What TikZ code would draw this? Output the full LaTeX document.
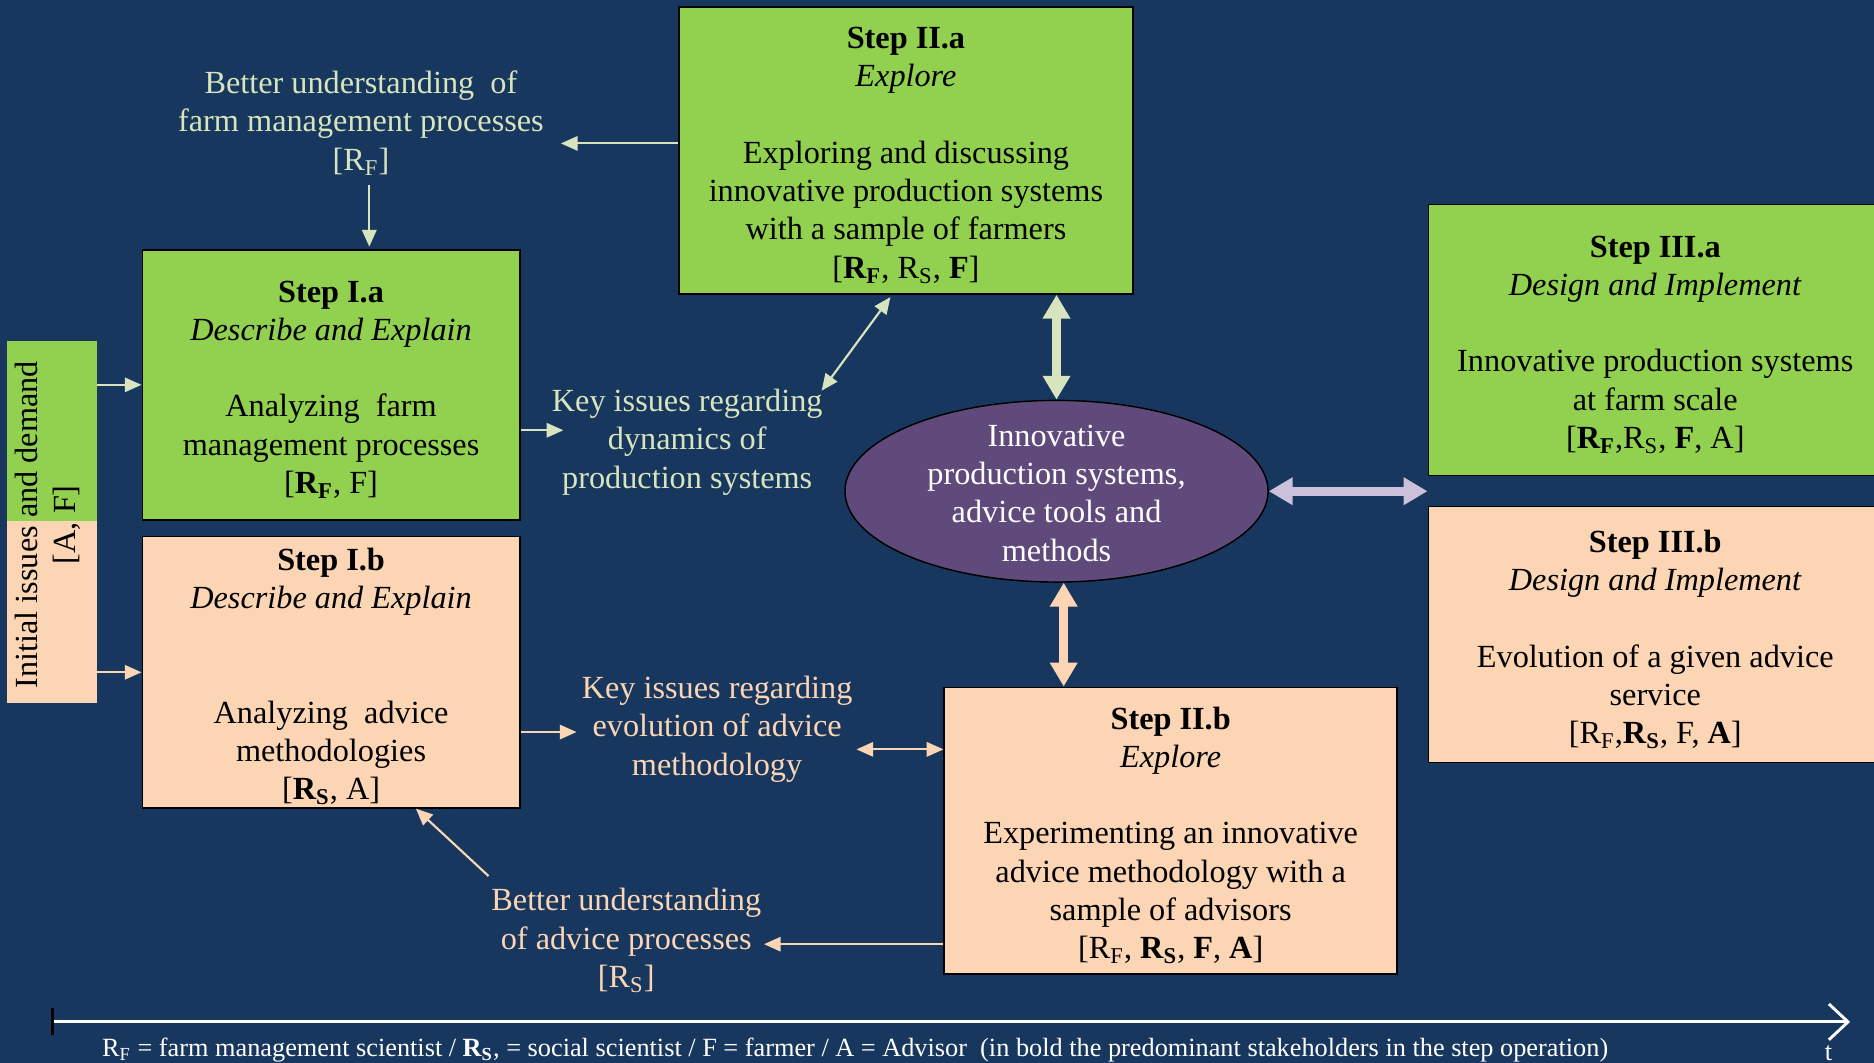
\documentclass[tikz,border=0pt]{standalone}
\usepackage{fontspec}
\setmainfont{Liberation Serif}
\usetikzlibrary{arrows.meta,shapes.geometric,calc}

\definecolor{bgblue}{HTML}{17375E}
\definecolor{boxgreen}{HTML}{92D050}
\definecolor{boxpeach}{HTML}{FCD5B5}
\definecolor{ellpurple}{HTML}{604A7B}
\definecolor{lightgreen}{HTML}{D7E4BD}
\definecolor{lavender}{HTML}{CCC1DA}

\newcommand{\Rf}{R\textsubscript{F}}
\newcommand{\Rs}{R\textsubscript{S}}

\begin{document}
\begin{tikzpicture}[x=0.5pt,y=-0.5pt,
  every node/.style={font=\fontsize{13.5}{16}\selectfont},
  stepbox/.style={draw=black, line width=0.6pt, inner sep=0pt},
  greenbox/.style={stepbox, fill=boxgreen},
  peachbox/.style={stepbox, fill=boxpeach},
  boxtext/.style={align=center, inner sep=0pt, text=black},
  greenlabel/.style={align=center, inner sep=0pt, text=lightgreen},
  peachlabel/.style={align=center, inner sep=0pt, text=boxpeach},
  thinarrow/.style={line width=0.9pt, -{Triangle[length=7pt,width=6pt]}},
  thinboth/.style={line width=0.9pt, {Triangle[length=7pt,width=6pt]}-{Triangle[length=7pt,width=6pt]}},
  thickboth/.style={line width=3.8pt, {Triangle[length=10pt,width=11pt]}-{Triangle[length=10pt,width=11pt]}},
]
% background and page frame
\fill[bgblue] (0,0) rectangle (1568,889);
\useasboundingbox (0,0) rectangle (1568,889);

% ---- step boxes ----
\node[greenbox, minimum width=190pt, minimum height=120pt] (IIa) at (758,126) {};
\node[boxtext] (IIaT) at ([yshift=-2pt]IIa.center)
  {\textbf{Step II.a}\\\textit{Explore}\\[16pt]Exploring and discussing\\innovative production systems\\with a sample of farmers\\{[}\textbf{\Rf}, \Rs, \textbf{F}{]}};

\node[greenbox, minimum width=158pt, minimum height=113pt] (Ia) at (277,322) {};
\node[boxtext] (IaT) at ([yshift=-2pt]Ia.center)
  {\textbf{Step I.a}\\\textit{Describe and Explain}\\[16pt]Analyzing\ \ farm\\management processes\\{[}\textbf{\Rf}, F{]}};

\node[peachbox, minimum width=158pt, minimum height=113.5pt] (Ib) at (277,562.5) {};
\node[boxtext] (IbT) at ([yshift=-1.8pt]Ib.center)
  {\textbf{Step I.b}\\\textit{Describe and Explain}\\[32pt]Analyzing\ \ advice\\methodologies\\{[}\textbf{\Rs}, A{]}};

\node[greenbox, minimum width=190pt, minimum height=113.5pt] (IIIa) at (1385,284.5) {};
\node[boxtext] (IIIaT) at ([yshift=-2pt]IIIa.center)
  {\textbf{Step III.a}\\\textit{Design and Implement}\\[16pt]Innovative production systems\\at farm scale\\{[}\textbf{\Rf},\Rs, \textbf{F}, A{]}};

\node[peachbox, minimum width=190pt, minimum height=107pt] (IIIb) at (1385,531) {};
\node[boxtext] (IIIbT) at ([yshift=-2pt]IIIb.center)
  {\textbf{Step III.b}\\\textit{Design and Implement}\\[16pt]Evolution of a given advice\\service\\{[}\Rf,\textbf{\Rs}, F, \textbf{A}{]}};

\node[peachbox, minimum width=189.5pt, minimum height=120pt] (IIb) at (979.5,695) {};
\node[boxtext] (IIbT) at ([yshift=-2pt]IIb.center)
  {\textbf{Step II.b}\\\textit{Explore}\\[16pt]Experimenting an innovative\\advice methodology with a\\sample of advisors\\{[}\Rf, \textbf{\Rs}, \textbf{F}, \textbf{A}{]}};

% ---- central ellipse ----
\node[ellipse, draw=black, line width=0.6pt, fill=ellpurple, minimum width=177pt,
  minimum height=76pt, inner sep=0pt] (ell) at (884,411) {};
\node[align=center, inner sep=0pt, text=white] (ellT) at ([yshift=-0.8pt]ell.center)
  {Innovative\\production systems,\\advice tools and\\methods};

% ---- initial issues bar ----
\node[fill=boxgreen, minimum width=37.5pt, minimum height=75.5pt, inner sep=0pt] (bartop) at (43.5,360.5) {};
\node[fill=boxpeach, minimum width=37.5pt, minimum height=76pt, inner sep=0pt] (barbot) at (43.5,512) {};
\node[rotate=90, align=center, inner sep=0pt, text=black] (bar) at (40,439)
  {Initial issues and demand\\{[}A, F{]}};

% ---- free labels ----
\node[greenlabel] (lblA) at (302,103)
  {Better understanding\ \ of\\farm management processes\\{[}\Rf{]}};
\node[greenlabel] (lblB) at (575,370)
  {Key issues regarding\\dynamics of\\production systems};
\node[peachlabel] (lblC) at (600,610)
  {Key issues regarding\\evolution of advice\\methodology};
\node[peachlabel] (lblD) at (524,787)
  {Better understanding\\of advice processes\\{[}\Rs{]}};

% ---- connectors ----
\coordinate (a1) at ([yshift=3pt]IIa.west);
\draw[thinarrow, lightgreen, shorten >=7pt] (a1) -- (a1 -| lblA.east);

\coordinate (a2) at ([xshift=3.5pt,yshift=-4pt]lblA.south);
\draw[thinarrow, lightgreen, shorten >=1pt] (a2) -- (a2 |- Ia.north);

\draw[thinarrow, lightgreen] (bartop.east |- Ia.west) -- (Ia.west);
\draw[thinarrow, boxpeach] (barbot.east |- Ib.west) -- (Ib.west);

\coordinate (a5) at ([yshift=-19pt]Ia.east);
\draw[thinarrow, lightgreen, shorten >=-5pt] (a5) -- (a5 -| lblB.west);

\draw[thinboth, lightgreen, shorten <=-1pt] (lblB.north east) -- ([xshift=-6.5pt,yshift=-1pt]IIa.south);

\draw[thickboth, lightgreen] (ell.north) -- (ell.north |- IIa.south);
\draw[thickboth, lavender] (ell.east) -- (ell.east -| IIIa.west);
\coordinate (a9) at ([xshift=3pt]ell.south);
\draw[thickboth, boxpeach] (a9) -- (a9 |- IIb.north);

\coordinate (a10) at ([yshift=-25pt]Ib.east);
\draw[thinarrow, boxpeach, shorten >=2pt] (a10) -- (a10 -| lblC.west);

\coordinate (a11) at ([yshift=-8.5pt]lblC.east);
\draw[thinboth, boxpeach, shorten <=1.5pt] (a11) -- (a11 -| IIb.west);

\coordinate (a12) at ([yshift=-47.5pt]IIb.west);
\draw[thinarrow, boxpeach, shorten >=1pt] (a12) -- (a12 -| lblD.east);

\draw[thinarrow, boxpeach] ([xshift=-1pt,yshift=5pt]lblD.north west) -- ([xshift=35.5pt]Ib.south);

% ---- time axis ----
\coordinate (t0) at (44,855);
\coordinate (t1) at (1548,855);
\draw[white, line width=1.2pt, -{Straight Barb[length=8pt,width=15pt]}] (t0) -- (t1);
\draw[black, line width=1pt] (44,843) -- (44,866);

\node[anchor=base west, inner sep=0pt, text=white, font=\fontsize{11}{13}\selectfont] (note) at (85,884)
  {\Rf{} = farm management scientist / \textbf{\Rs}, = social scientist / F = farmer / A = Advisor\ \ (in bold the predominant stakeholders in the step operation)};
\node[anchor=base, inner sep=0pt, text=white, font=\fontsize{11}{13}\selectfont] (tlabel) at (1530,887) {t};
\end{tikzpicture}
\end{document}
